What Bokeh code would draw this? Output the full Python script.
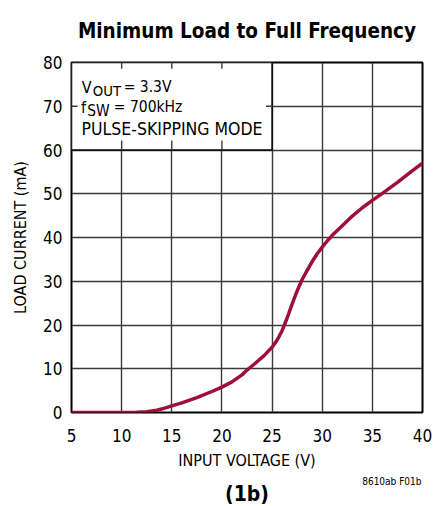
from bokeh.plotting import figure
from bokeh.models import Label, FixedTicker, Range1d, Title
from bokeh.embed import file_html
from bokeh.resources import INLINE

# data
vin = [5, 8, 10, 10.7, 11.5, 12.5, 13.5, 14.3, 15, 16, 17.5, 19, 20, 21, 22, 22.5, 23.3, 24.2, 25,
       25.5, 26, 26.5, 27, 27.5, 28, 28.5, 29, 29.5, 30, 30.5, 31, 32, 33, 34, 35, 36, 37.5, 39, 40]
iload = [0, 0, 0, 0, 0.05, 0.2, 0.5, 1.0, 1.5, 2.2, 3.4, 4.8, 5.8, 7.0, 8.6, 9.7, 11.2, 13.0, 14.9,
         16.5, 18.7, 21.6, 24.8, 27.8, 30.4, 32.5, 34.5, 36.3, 37.8, 39.2, 40.5, 42.7, 44.9, 46.8, 48.5, 50.1, 52.6, 55.3, 57.0]
x_ticks = [5, 10, 15, 20, 25, 30, 35, 40]
y_ticks = [0, 10, 20, 30, 40, 50, 60, 70, 80]

FONT = "'DejaVu Sans Condensed', 'DejaVu Sans', sans-serif"
RED = "#9e0f3a"
GRID = "#3a3a3a"

p = figure(width=435, height=506, output_backend="svg", toolbar_location=None,
           x_range=Range1d(5, 40), y_range=Range1d(0, 80),
           min_border_left=71, min_border_right=13, min_border_top=62, min_border_bottom=94)
p.outline_line_color = "black"
p.outline_line_width = 2

p.title = Title(text="Minimum Load to Full Frequency", align="center", text_font=FONT,
                text_font_size="20.5px", text_font_style="bold", text_color="black",
                vertical_align="top", standoff=36, offset=2.5)

for ax, ticks in ((p.xaxis[0], x_ticks), (p.yaxis[0], y_ticks)):
    ax.ticker = FixedTicker(ticks=ticks)
    ax.major_tick_out = 0
    ax.major_tick_in = 0
    ax.minor_tick_out = 0
    ax.minor_tick_in = 0
    ax.axis_line_color = None
    ax.major_label_text_font = FONT
    ax.major_label_text_font_size = "17px"
    ax.major_label_text_color = "black"
    ax.axis_label_text_font = FONT
    ax.axis_label_text_font_size = "16px"
    ax.axis_label_text_font_style = "normal"
    ax.axis_label_text_color = "black"

p.xaxis.axis_label = "INPUT VOLTAGE (V)"
p.yaxis.axis_label = "LOAD CURRENT (mA)"
p.xaxis.major_label_standoff = 16
p.xaxis.axis_label_standoff = 6
p.yaxis.major_label_standoff = 9
p.yaxis.axis_label_standoff = 10

p.add_layout(Title(text="8610ab F01b", align="right", text_font=FONT, text_font_size="10px",
                   text_font_style="normal", text_color="black", standoff=3, offset=1), "below")
p.add_layout(Title(text="(1b)", align="center", text_font=FONT, text_font_size="21px",
                   text_font_style="bold", text_color="black", standoff=-18, offset=1.5), "below")

p.xgrid.ticker = FixedTicker(ticks=x_ticks)
p.ygrid.ticker = FixedTicker(ticks=y_ticks)
for g in (p.xgrid[0], p.ygrid[0]):
    g.grid_line_color = GRID
    g.grid_line_width = 1.4

# annotation box covering the grid
p.quad(left=[5], right=[25], bottom=[60], top=[80], fill_color="white",
       line_color="black", line_width=1.5)
# grid stubs at box edges
p.segment(x0=[10, 15, 20], y0=[80, 80, 80], x1=[10, 15, 20], y1=[78.6, 78.6, 78.6],
          line_color=GRID, line_width=1.4)
p.segment(x0=[10, 15, 20], y0=[60, 60, 60], x1=[10, 15, 20], y1=[62.2, 62.2, 62.2],
          line_color=GRID, line_width=1.4)
p.segment(x0=[5], y0=[70], x1=[5.6], y1=[70], line_color=GRID, line_width=1.4)
p.segment(x0=[24.4], y0=[70], x1=[25], y1=[70], line_color=GRID, line_width=1.4)

p.line(vin, iload, line_color=RED, line_width=3.5, line_join="round", line_cap="round")

def lab(x, y, text, size, style="normal", align="left"):
    p.add_layout(Label(x=x, y=y, text=text, text_font=FONT, text_font_size=size,
                       text_font_style=style, text_align=align, text_color="black",
                       text_baseline="alphabetic"))

# box texts
lab(6.02, 74.35, "V", "16px")
lab(7.12, 73.6, "OUT", "14.8px")
lab(10.2, 74.35, "= 3.3V", "15.5px")
lab(5.95, 69.8, "f", "16px")
lab(6.56, 69.0, "SW", "15.3px")
lab(9.22, 69.8, "= 700kHz", "15.5px")
lab(6.0, 64.8, "PULSE-SKIPPING MODE", "17.5px")

open("out.html", "w").write(file_html(p, INLINE))
